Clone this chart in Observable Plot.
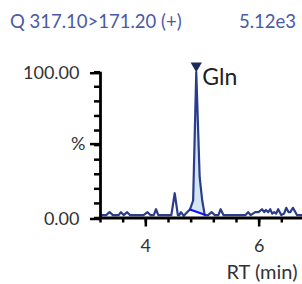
<!DOCTYPE html>
<html><head><meta charset="utf-8">
<script src="https://cdn.jsdelivr.net/npm/d3@7"></script>
<script src="https://cdn.jsdelivr.net/npm/@observablehq/plot@0.6"></script>
<style>
body{margin:0;background:#fff;font-family:Lato,sans-serif;}
#title{display:flex;justify-content:space-between;height:40px;line-height:42px;padding:0 6px 0 10px;color:#4a5aa6;font-size:18.5px;font-weight:400;}
</style></head><body>
<div id="title"><span>Q 317.10&gt;171.20 (+)</span><span>5.12e3</span></div>
<div id="chart"></div>
<script>
const rt = [3.2,3.30,3.36,3.42,3.52,3.56,3.61,3.67,3.72,3.96,4.03,4.08,4.14,4.18,4.22,4.45,4.51,4.565,4.59,4.62,4.67,4.78,4.835,4.89,4.95,4.995,5.04,5.10,5.16,5.22,5.28,5.32,5.37,5.76,5.805,5.85,5.93,5.99,6.05,6.09,6.12,6.16,6.195,6.23,6.265,6.30,6.336,6.39,6.44,6.478,6.52,6.549,6.596,6.667,6.765];
const pct = [2,2,4,2,2,4,2,4,2,2,4,2,2,6,2,2,17,2,2,4,1.5,6,12,100,28,12,2,2,4,2,2,6,2,2,4,2,4,4,6,4,5.5,4,6,3,4,3,6,2,3,7,4,4,7,2,2];
const peakName = ["Gln"];
const peakRT = [4.89];
const peakStart = [4.78, 5.8];
const peakEnd = [5.04, 2.2];
const yTickLabels = {0:"0.00", 100:"100.00"};
const xMajor = [4, 6];

const trace = rt.map((t,i)=>({t, v:pct[i]}));
const base = t => peakStart[1] + (peakEnd[1]-peakStart[1])*(t-peakStart[0])/(peakEnd[0]-peakStart[0]);
const peakArea = trace.filter(d=>d.t>=peakStart[0] && d.t<=peakEnd[0]).map(d=>({t:d.t, v:d.v, b:base(d.t)}));
const baseline = [{t:peakStart[0], v:peakStart[1]},{t:peakEnd[0], v:peakEnd[1]}];
const peaks = peakName.map((n,i)=>({n, t:peakRT[i], v:100}));

const plot = Plot.plot({
  width:302, height:244,
  marginLeft:100, marginRight:0, marginTop:31.7, marginBottom:66.5,
  x:{domain:[3.2,6.765]},
  y:{domain:[0,100]},
  style:{fontFamily:"Lato, sans-serif", fontSize:"18px", color:"#333", background:"#fff", overflow:"visible"},
  marks:[
    Plot.areaY(peakArea,{x:"t", y1:"b", y2:"v", fill:"#d3e7f2"}),
    Plot.line(trace,{x:"t", y:"v", stroke:"#2b3c8c", strokeWidth:2.2}),
    Plot.line(baseline,{x:"t", y:"v", stroke:"#1010ff", strokeWidth:2}),
    Plot.axisY({ticks:d3.range(0,101,10), tickSize:6, tickFormat:()=>"", strokeWidth:2.5, stroke:"#000"}),
    Plot.axisY({ticks:[0,100], tickSize:10, tickPadding:11, tickFormat:d=>yTickLabels[d], strokeWidth:2.5, stroke:"#000", fill:"#333", dy:1, label:null}),
    Plot.axisY({ticks:[50], tickSize:10, tickPadding:5, tickFormat:()=>"%", strokeWidth:2.5, stroke:"#000", fill:"#333", dy:-1, label:null}),
    Plot.axisX({ticks:d3.range(3.2,6.8,0.4), tickSize:5, tickFormat:()=>"", strokeWidth:2.5, stroke:"#000", label:null}),
    Plot.axisX({ticks:xMajor, tickSize:9, tickPadding:12, tickFormat:d=>String(d), strokeWidth:2.5, stroke:"#000", fill:"#333", label:null}),
    Plot.ruleY([0],{stroke:"#000", strokeWidth:2.8}),
    Plot.ruleX([3.2],{stroke:"#000", strokeWidth:2.8}),
    Plot.dot(peaks,{x:"t", y:"v", symbol:"triangle", rotate:180, r:4.2, fill:"#1b2a5c", stroke:null, dy:-6.5}),
    Plot.text(peaks,{x:"t", y:"v", text:"n", textAnchor:"start", dx:6, dy:5, fontSize:23, fill:"#222"}),
    Plot.text(["RT (min)"],{frameAnchor:"bottom-right", dx:-5, dy:54.5, lineAnchor:"middle", fontSize:20, fill:"#333", textAnchor:"end"})
  ]
});
document.getElementById("chart").appendChild(plot);
</script>
</body></html>
